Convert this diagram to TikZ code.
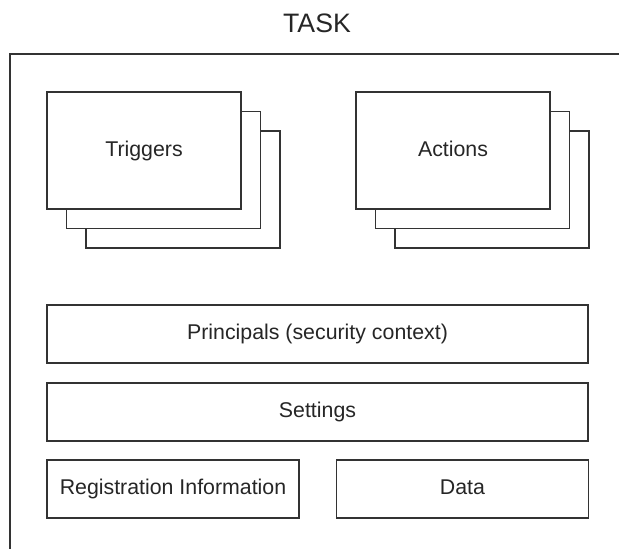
\documentclass[tikz,border=0pt]{standalone}
\usepackage{fontspec}
\setmainfont{Liberation Sans}
\begin{document}
\begin{tikzpicture}
[x=0.75pt,y=-0.75pt,
box/.style={draw=black!80, line width=1.1pt, fill=white, inner sep=0pt, outer sep=0pt,
  text=black!85, font=\fontsize{16}{19}\selectfont, text height=12pt, text depth=3pt},
stackbox/.style={box, minimum width=145.5pt, minimum height=87.75pt},
widebox/.style={box, minimum width=405.75pt, minimum height=43.5pt},
halfbox/.style={box, minimum width=189pt, minimum height=43.5pt}]
  \useasboundingbox (0,0) rectangle (619,549);
  \node (task) at (317,23) [text=black!85, font=\fontsize{20}{24}\selectfont]{TASK};
  \draw [black!80, line width=1.1pt] (619,54) -- (10,54) -- (10,549);
  \node [stackbox] (trigB) at (183,189.5) {};
  \node [stackbox] (trigA) at (163.5,170) {};
  \node [stackbox] (trig) at (144,150.5) {Triggers};
  \node [stackbox] (actB) at (492,189.5) {};
  \node [stackbox] (actA) at (472.5,170) {};
  \node [stackbox] (act) at (453,150.5) {Actions};
  \node [widebox] (princ) at (317.5,334) {Principals (security context)};
  \node [widebox] (sett) at (317.5,412) {Settings};
  \node [halfbox] (reg) at (173,489) {Registration Information};
  \node [halfbox] (data) at (462.5,489) {Data};
\end{tikzpicture}
\end{document}
